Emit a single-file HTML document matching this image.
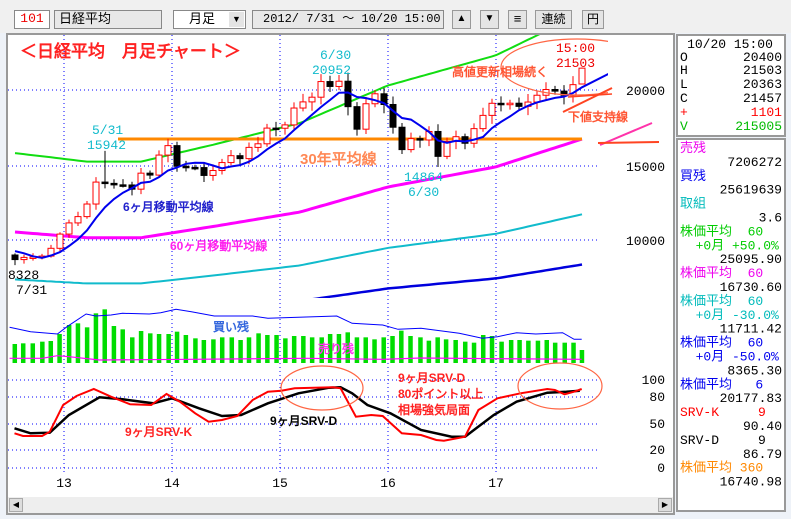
<!DOCTYPE html>
<html><head><meta charset="utf-8"><style>
body{margin:0;width:791px;height:519px;background:#eef2f8;overflow:hidden;font-family:"Liberation Sans","WenQuanYi Zen Hei",sans-serif}
.b{position:absolute;box-sizing:border-box;font-size:13px;line-height:16px}
</style></head><body>
<div class="b" style="left:0;top:0;width:791px;height:33px;background:#f0f0f0"></div>
<div class="b" style="left:14px;top:10px;width:36px;height:19px;background:#fff;border:1px solid #888;color:#e00;text-align:center;font-family:'Liberation Mono',monospace">101</div>
<div class="b" style="left:54px;top:10px;width:108px;height:19px;background:#e8e8e8;border:1px solid #888;padding-left:4px;font-family:'WenQuanYi Zen Hei',sans-serif">日経平均</div>
<div class="b" style="left:173px;top:10px;width:73px;height:19px;background:#fff;border:1px solid #888;padding-left:15px;font-family:'WenQuanYi Zen Hei',sans-serif">月足</div>
<div class="b" style="left:229px;top:12px;width:15px;height:15px;background:#e4e4e4;font-size:9px;text-align:center;line-height:15px">▼</div>
<div class="b" style="left:252px;top:10px;width:192px;height:19px;background:#e8e8e8;border:1px solid #888;padding-left:10px;font-family:'Liberation Mono','WenQuanYi Zen Hei',monospace;font-size:12px;white-space:nowrap">2012/ 7/31 ～ 10/20 15:00</div>
<div class="b" style="left:452px;top:10px;width:19px;height:19px;background:#e4e4e4;border:1px solid #999;font-size:10px;text-align:center">▲</div>
<div class="b" style="left:480px;top:10px;width:19px;height:19px;background:#e4e4e4;border:1px solid #999;font-size:10px;text-align:center">▼</div>
<div class="b" style="left:508px;top:10px;width:19px;height:19px;background:#e4e4e4;border:1px solid #999;text-align:center">≡</div>
<div class="b" style="left:535px;top:10px;width:37px;height:19px;background:#e4e4e4;border:1px solid #999;text-align:center;font-family:'WenQuanYi Zen Hei',sans-serif;font-size:12px">連続</div>
<div class="b" style="left:582px;top:10px;width:22px;height:19px;background:#e4e4e4;border:1px solid #999;text-align:center;font-family:'WenQuanYi Zen Hei',sans-serif;font-size:12px">円</div>
<div class="b" style="left:6px;top:33px;width:669px;height:482px;background:#fff;border:2px solid #999"></div>
<div class="b" style="left:8px;top:497px;width:665px;height:16px;background:#eee"></div>
<div class="b" style="left:9px;top:498px;width:14px;height:14px;background:#ddd;border:1px solid #aaa;font-size:8px;text-align:center;line-height:12px">◀</div>
<div class="b" style="left:658px;top:498px;width:14px;height:14px;background:#ddd;border:1px solid #aaa;font-size:8px;text-align:center;line-height:12px">▶</div>
<div class="b" style="left:676px;top:34px;width:110px;height:103px;background:#fff;border:2px solid #999"></div>
<div class="b" style="left:676px;top:138px;width:110px;height:374px;background:#fff;border:2px solid #999"></div>
<svg id="s" width="791" height="519" style="position:absolute;left:0;top:0" xmlns="http://www.w3.org/2000/svg"></svg>
<script>
var S=document.getElementById('s'),h='';
function L(p,c,w,ex){return '<polyline fill="none" stroke="'+c+'" stroke-width="'+w+'" points="'+p.map(function(q){return q[0].toFixed(1)+','+q[1].toFixed(1)}).join(' ')+'" '+(ex||'')+'/>';}
function T(x,y,t,c,sz,ex){return '<text x="'+x+'" y="'+y+'" fill="'+c+'" font-size="'+sz+'" '+(ex||'')+'>'+t+'</text>';}
h+='<defs><clipPath id="cp"><rect x="8" y="35" width="600" height="263"/></clipPath><clipPath id="cs"><rect x="8" y="35" width="600" height="462"/></clipPath></defs>';
// grid
[64,172,280,388,496].forEach(function(x){h+='<line x1="'+x+'" y1="35" x2="'+x+'" y2="472" stroke="#00f" stroke-dasharray="1,3"/>';});
[90,166,240,380,397,424,450,468].forEach(function(y){h+='<line x1="8" y1="'+y+'" x2="600" y2="'+y+'" stroke="#00f" stroke-dasharray="1,3"/>';});
var pre=[8803,9723,10084,9521,8543,9007];
var C=[8695,8840,8870,8928,9446,10395,11139,11559,12398,13861,13775,13677,13668,13389,14456,14328,15662,16291,14915,14841,14828,14304,14632,15162,15621,15425,16174,16414,17460,17451,17674,18798,19207,19520,20563,20236,20585,18890,17388,19083,19747,19034,17518,16027,16759,16666,17235,15576,16569,16887,16450,17425,18308,19114,19041,19119,18909,19197,19650,20033,19925,19646,20356,21457];
function X(i){return 15+i*9;}function Y(p){return 90+(20000-p)*0.015;}
// 60MA
var cp=[[0,10530],[8,10150],[14,10150],[22,10900],[31.7,11870],[41.4,13530],[53.4,14870],[63,16730]];
function ma60(i){for(var k=0;k<cp.length-1;k++){if(i<=cp[k+1][0]){var t=(i-cp[k][0])/(cp[k+1][0]-cp[k][0]);return cp[k][1]+t*(cp[k+1][1]-cp[k][1]);}}return cp[cp.length-1][1];}
var g=[],m=[],cy=[],bl=[];for(var i=0;i<=63;i+=0.5){var v=ma60(i);g.push([X(i),Y(v*1.5)]);m.push([X(i),Y(v)]);cy.push([X(i),Y(v*0.7)]);bl.push([X(i),Y(v*0.5)]);}
h+='<g clip-path="url(#cp)">'+L(g,'#1d1','2')+L(m,'#f0f','3')+L(cy,'#1bc','2')+L(bl,'#00d','2.5');
h+='<line x1="118" y1="139" x2="582" y2="139" stroke="#f80" stroke-width="3"/>';
// candles
var all=pre.concat(C);var hi={10:15942,35:20952,63:21503},lo={0:8328,47:14864,63:20363};
for(var i=0;i<64;i++){var c=C[i],o=i==63?20400:(i==0?9000:C[i-1]);var H=hi[i]||Math.max(o,c)*(1+0.012+0.02*((i*7)%5)/5);var Lw=lo[i]||Math.min(o,c)*(1-0.012-0.025*((i*3)%4)/4);var up=c>=o,col=up?'#f00':'#000',x=X(i);
h+='<line x1="'+x+'" y1="'+Y(H)+'" x2="'+x+'" y2="'+Y(Lw)+'" stroke="'+col+'"/>';var t=Y(Math.max(o,c)),bh=Math.max(1.5,Math.abs(Y(o)-Y(c)));
h+='<rect x="'+(x-3)+'" y="'+t+'" width="6" height="'+bh+'" fill="'+(up?'#fff':'#000')+'" stroke="'+col+'"/>';}
var b6=[];for(var i=0;i<64;i++){var s=0;for(var k=0;k<6;k++)s+=all[i+6-k];b6.push([X(i),Y(s/6)]);}
b6.push([628,64]);h+=L(b6,'#00e','2')+'</g>';
// volume
var vx=[38,60,85,110,132,155,180,203,227,250,273,297,320,345,368,392,415,440,462,485,510,532,557,580,605,628,650,675,698,722,745,768,792,815,840,862,885,908,932,955,978,1002,1025,1048,1072,1098,1120,1143,1165,1190,1215,1238,1262,1285,1310,1335,1357,1380,1405,1428,1450,1475,1498,1520];
var vt=[162,160,160,155,153,132,105,100,112,70,58,108,118,142,123,130,132,132,125,135,145,150,148,142,142,150,142,130,135,135,145,138,138,142,142,132,132,127,142,142,148,142,138,122,138,142,152,142,148,150,155,158,135,138,155,150,150,152,152,150,158,158,158,180];
for(var i=0;i<64;i++){var x=vx[i]/2.613,y=290+vt[i]/3;h+='<rect x="'+(x-2)+'" y="'+y+'" width="4.5" height="'+(363-y)+'" fill="#0d0"/>';}
function Z(a){return a.map(function(q){return [q[0]/2.613,290+q[1]/3];});}
h+=L(Z([[25,112],[80,125],[150,132],[175,110],[225,72],[250,78],[290,75],[320,70],[390,72],[420,68],[460,58],[500,65],[560,78],[660,78],[700,85],[780,82],[880,78],[920,100],[1000,105],[1040,118],[1100,115],[1200,130],[1260,145],[1300,140],[1350,128],[1400,132],[1470,128],[1500,148],[1520,148]]),'#00f','1');
h+=L(Z([[25,205],[110,205],[150,197],[180,200],[260,210],[500,208],[800,205],[1000,208],[1100,204],[1300,206],[1520,208]]),'#f0f','1.2');
h+=L(Z([[38,415],[80,430],[130,428],[180,375],[260,322],[320,328],[400,340],[450,325],[520,355],[580,378],[630,375],[700,340],[780,310],[860,293],[890,292],[920,310],[960,345],[1020,370],[1100,420],[1180,440],[1215,440],[1290,375],[1350,335],[1430,308],[1480,305],[1515,302]]),'#000','2.5');
h+=L(Z([[38,430],[60,438],[110,438],[130,425],[165,345],[200,318],[245,297],[290,320],[340,343],[395,345],[435,312],[470,335],[510,370],[545,395],[580,390],[620,378],[660,330],[700,305],[735,302],[770,295],[870,292],[890,295],[930,380],[970,375],[1000,378],[1050,430],[1100,435],[1140,450],[1160,452],[1215,440],[1250,360],[1300,325],[1360,310],[1430,297],[1450,300],[1475,313],[1500,305],[1520,297]]),'#f00','2');
// annotations
h+='<g clip-path="url(#cs)"><ellipse cx="577" cy="67" rx="76" ry="28" fill="none" stroke="#f64" stroke-width="1.2"/><ellipse cx="322" cy="388" rx="41" ry="22" fill="none" stroke="#f64" stroke-width="1.2"/><ellipse cx="560" cy="386" rx="42" ry="23" fill="none" stroke="#f64" stroke-width="1.2"/></g>';
h+='<line x1="563" y1="112" x2="612" y2="88" stroke="#f42" stroke-width="2"/><line x1="568" y1="97" x2="612" y2="94" stroke="#f42" stroke-width="1.5"/><line x1="600" y1="145" x2="652" y2="123" stroke="#f3a" stroke-width="2"/><line x1="598" y1="143" x2="659" y2="142" stroke="#f42" stroke-width="2"/>';
var jf='font-family="Liberation Sans,WenQuanYi Zen Hei,sans-serif" font-weight="bold"';
var mf='font-family="Liberation Mono,WenQuanYi Zen Hei,monospace"';
h+=T(20,57,'＜日経平均　月足チャート＞','#f22',17,jf);
h+=T(300,164,'30年平均線','#f85',15,jf);
h+=T(123,211,'6ヶ月移動平均線','#22c',12,jf);
h+=T(170,250,'60ヶ月移動平均線','#f2e',12,jf);
h+=T(452,76,'高値更新相場続く','#f53',12,jf);
h+=T(568,121,'下値支持線','#f53',12,jf);
h+=T(213,331,'買い残','#36d',12,jf)+T(318,353,'売り残','#f3e',12,jf);
h+=T(125,436,'9ヶ月SRV-K','#f22',12,jf)+T(270,425,'9ヶ月SRV-D','#000',12,jf);
h+=T(398,382,'9ヶ月SRV-D','#f22',12,jf)+T(398,398,'80ポイント以上','#f22',12,jf)+T(398,414,'相場強気局面','#f22',12,jf);
h+=T(556,52,'15:00','#e00',13,mf)+T(556,67,'21503','#e00',13,mf);
h+=T(320,59,'6/30','#1bc',13,mf)+T(312,74,'20952','#1bc',13,mf);
h+=T(92,134,'5/31','#1bc',13,mf)+T(87,149,'15942','#1bc',13,mf);
h+=T(404,181,'14864','#1bc',13,mf)+T(408,196,'6/30','#1bc',13,mf);
h+=T(8,279,'8328','#000',13,mf)+T(16,294,'7/31','#000',13,mf);
[[64,'13'],[172,'14'],[280,'15'],[388,'16'],[496,'17']].forEach(function(a){h+=T(a[0],487,a[1],'#000',13,mf+' text-anchor="middle"');});
[[95,'20000'],[171,'15000'],[245,'10000'],[384,'100'],[401,'80'],[428,'50'],[454,'20'],[472,'0']].forEach(function(a){h+=T(665,a[0],a[1],'#000',13,mf+' text-anchor="end"');});
// info
var R=782;function I(y,l,r,c1,c2){if(l)h+=T(680,y,l,c1,13,mf);if(r)h+=T(R,y,r,c2||c1,13,mf+' text-anchor="end"');}
h+=T(730,48,'10/20 15:00','#000',13,mf+' text-anchor="middle"');
I(61,'O','20400','#000');I(74,'H','21503','#000');I(88,'L','20363','#000');I(102,'C','21457','#000');I(116,'+','1101','#f00');I(130,'V','215005','#0b0');
var rows=[['売残','','#e0e'],['','7206272','#000'],['買残','','#00e'],['','25619639','#000'],['取組','','#0bb'],['','3.6','#000'],['株価平均  60','','#0c0'],['  +0月 +50.0%','','#0c0'],['','25095.90','#000'],['株価平均  60','','#e0e'],['','16730.60','#000'],['株価平均  60','','#0bb'],['  +0月 -30.0%','','#0bb'],['','11711.42','#000'],['株価平均  60','','#00e'],['  +0月 -50.0%','','#00e'],['','8365.30','#000'],['株価平均   6','','#00e'],['','20177.83','#000'],['SRV-K     9','','#f00'],['','90.40','#000'],['SRV-D     9','','#000'],['','86.79','#000'],['株価平均 360','','#f80'],['','16740.98','#000']];
rows.forEach(function(r,k){I(152+k*13.9,r[0]?r[0].replace(/ /g,'&#160;'):'',r[1],r[2]);});
S.innerHTML=h;
</script>
</body></html>
